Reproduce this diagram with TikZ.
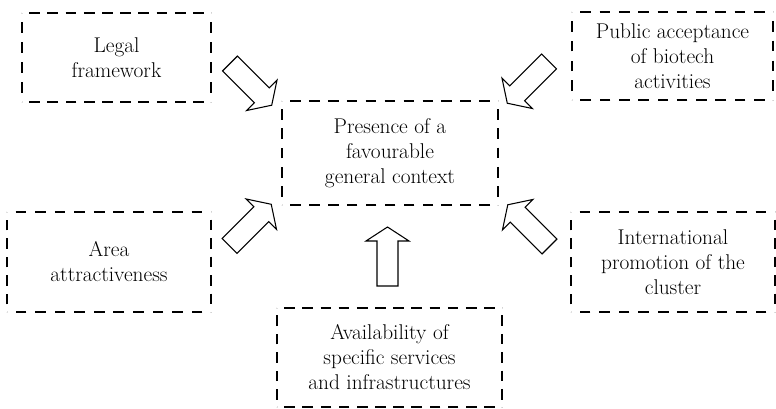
\documentclass[tikz,border=0pt]{standalone}
\usetikzlibrary{decorations}
\begin{document}
\begin{tikzpicture}[x=0.75pt,y=-0.75pt,
  label text/.style={align=center,inner sep=0pt,
    font=\rmfamily\fontsize{16}{18.75}\selectfont},
  frame/.style={line width=1.6pt,dash pattern=on 8pt off 5.5pt,dash expand off},
  arrowline/.style={draw=black,line width=0.8pt,line join=miter,fill=white},
  blockarrow/.pic={
    \draw[arrowline] (0,-10.5) -- (45,-10.5) -- (45,-21.5) -- (59,0)
      -- (45,21.5) -- (45,10.5) -- (0,10.5) -- cycle;}]
\useasboundingbox (0,0) rectangle (776,409);

% factor boxes (text area sized to the dashed frame)
\node[label text,minimum width=141.75pt,minimum height=66.75pt] (legal) at (116.5,57.5) {Legal\\framework};
\node[label text,minimum width=150.75pt,minimum height=66pt] (public) at (672.5,56) {Public acceptance\\of biotech\\activities};
\node[label text,minimum width=162pt,minimum height=78pt] (context) at (390,153) {Presence of a\\favourable\\general context};
\node[label text,minimum width=153pt,minimum height=75pt] (area) at (109,262) {Area\\attractiveness};
\node[label text,minimum width=153pt,minimum height=75pt] (intl) at (673,262) {International\\promotion of the\\cluster};
\node[label text,minimum width=168.75pt,minimum height=74.25pt] (services) at (389.5,357.5) {Availability of\\specific services\\and infrastructures};

% dashed frames, each side drawn on its own so every corner gets a dash
\foreach \b in {legal,public,context,area,intl,services}{
  \draw[frame] (\b.north west) -- (\b.north east);
  \draw[frame] (\b.north east) -- (\b.south east);
  \draw[frame] (\b.south east) -- (\b.south west);
  \draw[frame] (\b.south west) -- (\b.north west);
}

% block arrows pointing at the central box
\path (230,63.5)  pic[rotate=-45]  (arrLegal)    {blockarrow};
\path (549,61.5)  pic[rotate=-135] (arrPublic)   {blockarrow};
\path (229.5,246) pic[rotate=45]   (arrArea)     {blockarrow};
\path (549.5,246.5) pic[rotate=135] (arrIntl)    {blockarrow};
\path (387.5,286) pic[rotate=90]   (arrServices) {blockarrow};
\end{tikzpicture}
\end{document}
